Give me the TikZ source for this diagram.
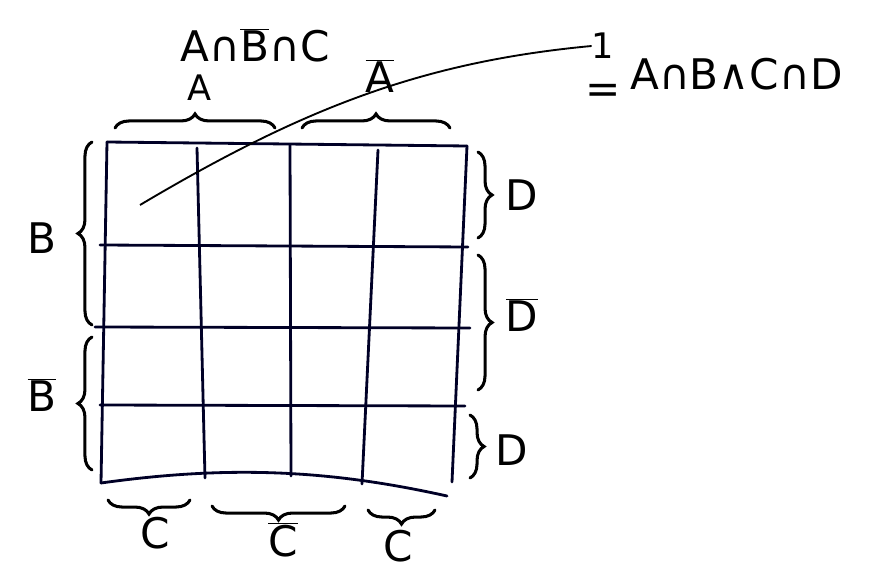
\documentclass[tikz,border=0pt]{standalone}
\usepackage{fontspec}
\setmainfont{DejaVu Sans}
\usetikzlibrary{decorations.pathreplacing}
\newcommand\ovl[1]{$\overline{\mbox{#1}}$}
\begin{document}
\begin{tikzpicture}[x=0.03cm,y=-0.03cm,
  gridline/.style={line width=2.4pt,draw=black!85!blue,line cap=round},
  bracestyle/.style={line width=2.6pt,line cap=round,decorate,decoration={brace,amplitude=12pt}},
  lbl/.style={font=\fontsize{36}{42}\selectfont,inner sep=0pt},
  smlbl/.style={font=\fontsize{30}{36}\selectfont,inner sep=0pt}]
\useasboundingbox (0,0) rectangle (869,572);
% grid corner coordinates
\coordinate (tl) at (107,142); \coordinate (tr) at (467,146);
\coordinate (bl) at (101,483); \coordinate (br) at (447,496);
\coordinate (r1l) at (100,245); \coordinate (r1r) at (468,247);
\coordinate (r2l) at (95,327);  \coordinate (r2r) at (470,328);
\coordinate (r3l) at (100,405); \coordinate (r3r) at (465,406);
\coordinate (c1t) at (197,148); \coordinate (c1b) at (205,478);
\coordinate (c2t) at (290,145); \coordinate (c2b) at (291,476);
\coordinate (c3t) at (378,150); \coordinate (c3b) at (362,484);
\coordinate (rvb) at (452,482);
% grid
\draw[gridline] (tl) -- (tr);
\draw[gridline] (r1l) -- (r1r);
\draw[gridline] (r2l) -- (r2r);
\draw[gridline] (r3l) -- (r3r);
\draw[gridline] (bl) .. controls (230,465) and (330,470) .. (br);
\draw[gridline] (tl) -- (bl);
\draw[gridline] (tr) -- (rvb);
\draw[gridline] (c1t) -- (c1b);
\draw[gridline] (c2t) -- (c2b);
\draw[gridline] (c3t) -- (c3b);
% top braces
\draw[bracestyle] (115,128) -- (275,128);
\draw[bracestyle] (302,128) -- (450,128);
\node[smlbl] (a1) at (200,88) {A};
\node[lbl] (a2) at (380,76) {\ovl{A}};
\node[lbl] (top) at (255,45) {A∩\ovl{B}∩C};
% left braces
\draw[bracestyle] (92,325) -- (92,142);
\draw[bracestyle] (92,470) -- (92,337);
\node[lbl] (b1) at (42,238) {B};
\node[lbl] (b2) at (42,395) {\ovl{B}};
% right braces
\draw[bracestyle] (478,152) -- (478,238);
\draw[bracestyle] (478,255) -- (478,390);
\draw[bracestyle] (470,415) -- (470,478);
\node[lbl] (d1) at (522,195) {D};
\node[lbl] (d2) at (522,315) {\ovl{D}};
\node[lbl] (d3) at (512,450) {D};
% bottom braces
\draw[bracestyle] (190,500) -- (108,500);
\draw[bracestyle] (345,506) -- (212,506);
\draw[bracestyle] (435,510) -- (368,510);
\node[lbl] (cc1) at (155,533) {C};
\node[lbl] (cc2) at (283,540) {\ovl{C}};
\node[lbl] (cc3) at (398,546) {C};
% annotation
\coordinate (cell) at (140,205);
\node[smlbl] (one) at (603,46) {1};
\node[lbl] (eq) at (603,94) {=};
\node[lbl,anchor=west] (res) at (630,74) {A∩B∧C∩D};
\draw[line width=1.6pt] (cell) .. controls (300,110) and (420,62) .. (one.west);
\end{tikzpicture}
\end{document}
